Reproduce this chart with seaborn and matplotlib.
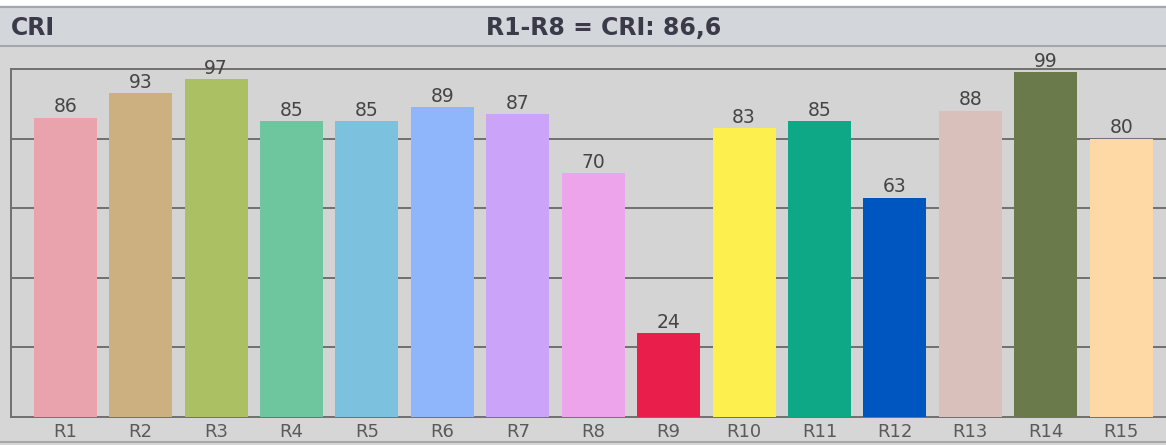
import pandas as pd
import numpy as np
import matplotlib.pyplot as plt
import seaborn as sns
from matplotlib.patches import Rectangle
from matplotlib.lines import Line2D

# Colour rendering index values R1..R15
labels = ['R1', 'R2', 'R3', 'R4', 'R5', 'R6', 'R7', 'R8',
          'R9', 'R10', 'R11', 'R12', 'R13', 'R14', 'R15']
values = [86, 93, 97, 85, 85, 89, 87, 70, 24, 83, 85, 63, 88, 99, 80]
colors = ['#e8a3ac', '#cdb07f', '#abc062', '#6ec69e', '#7cc2de',
          '#8fb5fa', '#cba3f8', '#eda4ea', '#ea1e4a', '#fdf04e',
          '#0ea886', '#0056c0', '#d9c0bb', '#6a7a4b', '#fed8a5']
title_left = 'CRI'
title_center = 'R1-R8 = CRI: 86,6'

data = pd.DataFrame({'sample': labels, 'value': values})

fig = plt.figure(figsize=(11.66, 4.45), dpi=100)
fig.patch.set_facecolor('#d6d6d6')

# header band
fig.patches.append(Rectangle((0, 0.9865), 1, 0.0135, transform=fig.transFigure,
                             color='white', zorder=0))
fig.patches.append(Rectangle((0, 0.896), 1, 0.0905, transform=fig.transFigure,
                             color='#d3d6db', zorder=0))
fig.lines.append(Line2D([0, 1], [0.985, 0.985], transform=fig.transFigure,
                        color='#a4a8ae', lw=1.5))
fig.lines.append(Line2D([0, 1], [0.896, 0.896], transform=fig.transFigure,
                        color='#a4a8ae', lw=1.5))
fig.lines.append(Line2D([0, 1], [0.006, 0.006], transform=fig.transFigure,
                        color='#a8a8a8', lw=1.5))
fig.text(0.009, 0.937, title_left, fontsize=17, fontweight='bold',
         color='#3a3a48', va='center', ha='left')
fig.text(0.5175, 0.937, title_center, fontsize=17, fontweight='bold',
         color='#3a3a48', va='center', ha='center')

ax = fig.add_axes([0.0094, 0.0629, 1.0, 0.782])
ax.set_facecolor('#d4d4d4')

sns.barplot(data=data, x='sample', y='value', hue='sample', palette=colors,
            legend=False, width=0.835, saturation=1, ax=ax, zorder=3)

for c in ax.containers:
    ax.bar_label(c, fontsize=13.5, color='#454545', padding=1)

ax.set_xlim(-0.72, 14.74)
ax.set_ylim(0, 100)
ax.set_yticks([20, 40, 60, 80])
ax.yaxis.grid(True, color='#707070', lw=1.4, zorder=0)
ax.set_axisbelow(True)
ax.tick_params(axis='y', left=False, labelleft=False)
ax.tick_params(axis='x', bottom=False, labelsize=13, labelcolor='#5a5a5a', pad=1)
ax.set_xlabel('')
ax.set_ylabel('')
for side in ['left', 'bottom', 'top']:
    ax.spines[side].set_color('#707070')
    ax.spines[side].set_linewidth(1.4)
ax.spines['right'].set_visible(False)

plt.savefig('out.png', dpi=100, facecolor=fig.get_facecolor())
